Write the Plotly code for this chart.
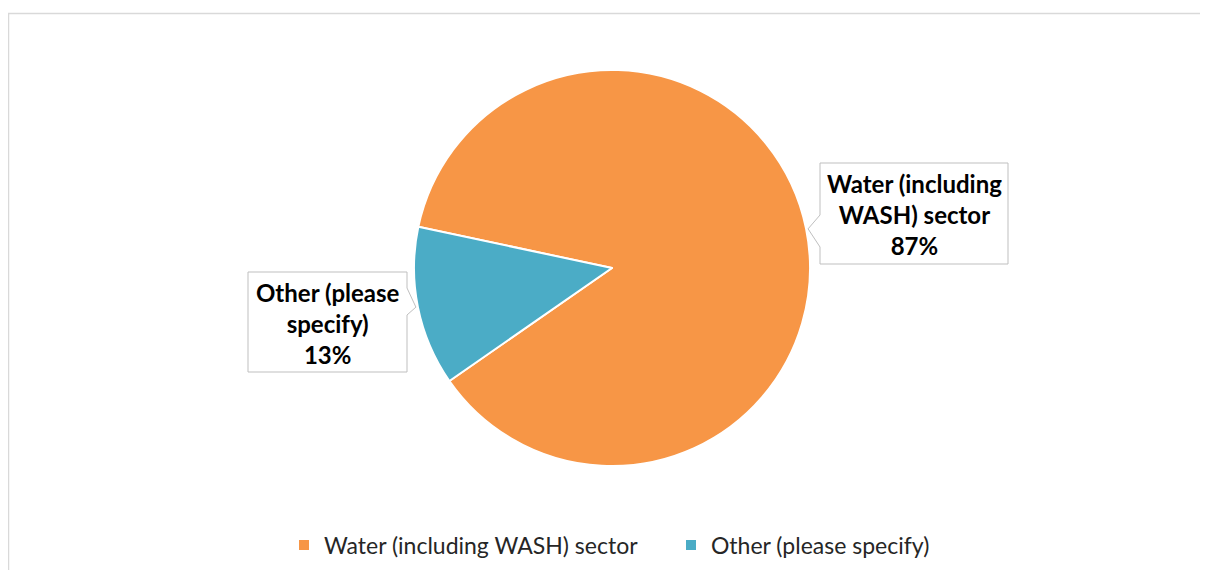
import math
import plotly.graph_objects as go

# ---- data ----
labels = ["Water (including WASH) sector", "Other (please specify)"]
label_lines = [["Water (including", "WASH) sector"], ["Other (please", "specify)"]]
values = [87, 13]
colors = ["#F79646", "#4BACC6"]

OFF = 8  # page body margin
W, H = 1208 - OFF, 570 - OFF
FONT = "Lato, 'Open Sans', sans-serif"

# pie geometry (screen pixels)
cx, cy, r = 612, 268, 198
rotation = 282

def px(x):
    return (x - OFF) / W

def py(y):
    return 1 - (y - OFF) / H

fig = go.Figure()
fig.add_trace(go.Pie(
    labels=labels, values=values, sort=False, direction="clockwise",
    rotation=rotation,
    marker=dict(colors=colors, line=dict(color="white", width=2)),
    textinfo="none", hoverinfo="label+percent",
    domain=dict(x=[px(cx - r), px(cx + r)], y=[py(cy + r), py(cy - r)]),
))

# slice mid-angles (clockwise from 12 o'clock) from data
total = sum(values)
angles = []
start = rotation
for v in values:
    span = 360 * v / total
    angles.append(start + span / 2)
    start += span
tips = [(cx + r * math.sin(math.radians(a)), cy - r * math.cos(math.radians(a))) for a in angles]

# callout boxes: (x0, y0, x1, y1, side, pointer base y0, base y1)
boxes = [
    (820, 163, 1008, 264, "left", 215, 247),
    (248, 272, 407, 372, "right", 288, 315),
]

shapes = [
    dict(type="path", xref="paper", yref="paper",
         path=f"M {px(8.5)},{py(580)} L {px(8.5)},{py(13.5)} L {px(1220)},{py(13.5)}",
         line=dict(color="#D9D9D9", width=1.5))
]
annotations = []
for i, (x0, y0, x1, y1, side, b0, b1) in enumerate(boxes):
    tx, ty = tips[i]
    if side == "left":
        pts = [(x0, y0), (x1, y0), (x1, y1), (x0, y1), (x0, b1), (tx + 2, ty), (x0, b0)]
    else:
        pts = [(x0, y0), (x1, y0), (x1, b0), (tx - 2, ty), (x1, b1), (x1, y1), (x0, y1)]
    path = "M " + " L ".join(f"{px(a)},{py(b)}" for a, b in pts) + " Z"
    shapes.append(dict(type="path", xref="paper", yref="paper", path=path,
                       fillcolor="white", line=dict(color="#BFBFBF", width=1)))
    pct = round(100 * values[i] / total)
    text = "<br>".join(f"<b>{t}</b>" for t in label_lines[i]) + f"<br><b>{pct}%</b>"
    annotations.append(dict(
        x=px((x0 + x1) / 2), y=py((y0 + y1) / 2 + 1), xref="paper", yref="paper",
        xanchor="center", yanchor="middle", showarrow=False, align="center",
        text=text, font=dict(family=FONT, size=24, color="#000000"),
    ))

fig.update_layout(
    width=W, height=H,
    margin=dict(l=0, r=0, t=0, b=0),
    paper_bgcolor="white", plot_bgcolor="white",
    font=dict(family=FONT),
    showlegend=True,
    legend=dict(orientation="h", x=px(284), xanchor="left", y=py(545), yanchor="middle",
                font=dict(family=FONT, size=23, color="#262626"),
                itemwidth=30, entrywidth=342, traceorder="normal"),
    shapes=shapes, annotations=annotations,
)

fig.write_html("out.html")
